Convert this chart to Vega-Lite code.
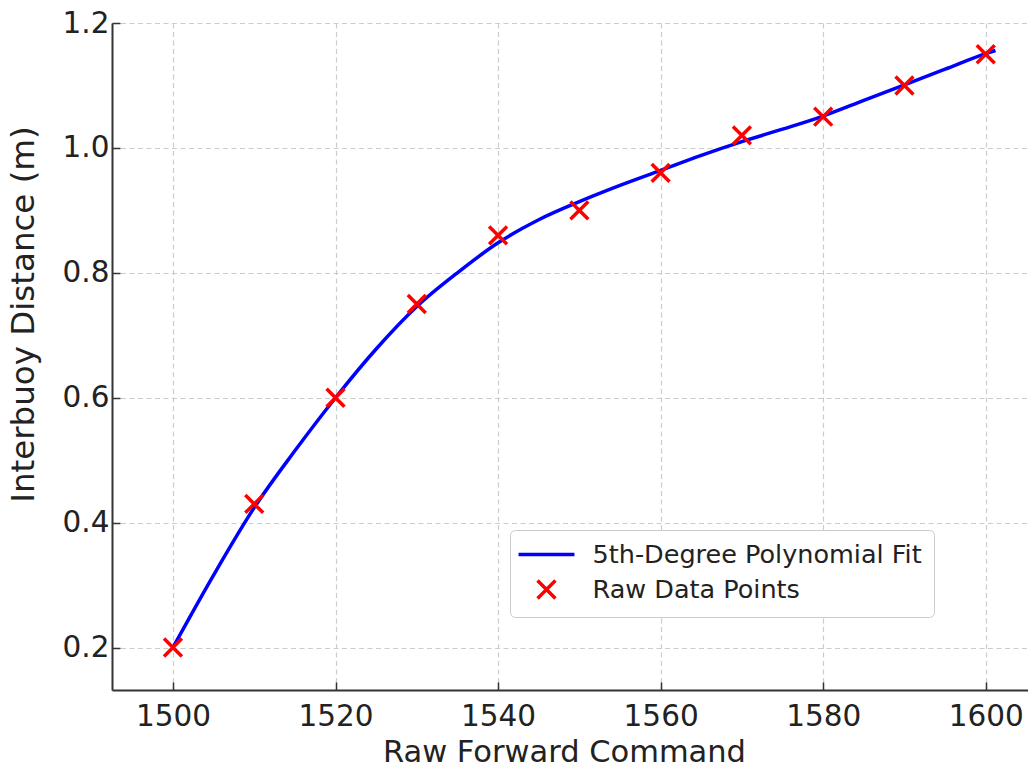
{
  "$schema": "https://vega.github.io/schema/vega-lite/v6.json",
  "width": 916,
  "height": 667,
  "autosize": {"type": "none"},
  "padding": {"left": 112, "top": 23, "right": 0, "bottom": 78},
  "background": "white",
  "config": {
    "font": "DejaVu Sans",
    "view": {"stroke": null},
    "axis": {
      "grid": true,
      "gridColor": "#cccccc",
      "gridDash": [5, 3.5],
      "gridWidth": 1.2,
      "domainColor": "#333333",
      "domainWidth": 2,
      "tickColor": "#333333",
      "tickWidth": 1.5,
      "tickSize": -8,
      "labelFontSize": 29.5,
      "labelColor": "#222222",
      "titleFontWeight": "normal",
      "titleColor": "#222222"
    },
    "legend": {
      "symbolStrokeWidth": 3.5
    }
  },
  "datasets": {
    "fit": [
      {"command": 1500, "distance": 0.200, "series": "5th-Degree Polynomial Fit"},
      {"command": 1505, "distance": 0.316, "series": "5th-Degree Polynomial Fit"},
      {"command": 1510, "distance": 0.424, "series": "5th-Degree Polynomial Fit"},
      {"command": 1515, "distance": 0.515, "series": "5th-Degree Polynomial Fit"},
      {"command": 1520, "distance": 0.600, "series": "5th-Degree Polynomial Fit"},
      {"command": 1525, "distance": 0.678, "series": "5th-Degree Polynomial Fit"},
      {"command": 1530, "distance": 0.746, "series": "5th-Degree Polynomial Fit"},
      {"command": 1535, "distance": 0.800, "series": "5th-Degree Polynomial Fit"},
      {"command": 1540, "distance": 0.848, "series": "5th-Degree Polynomial Fit"},
      {"command": 1545, "distance": 0.885, "series": "5th-Degree Polynomial Fit"},
      {"command": 1550, "distance": 0.914, "series": "5th-Degree Polynomial Fit"},
      {"command": 1555, "distance": 0.940, "series": "5th-Degree Polynomial Fit"},
      {"command": 1560, "distance": 0.964, "series": "5th-Degree Polynomial Fit"},
      {"command": 1565, "distance": 0.988, "series": "5th-Degree Polynomial Fit"},
      {"command": 1570, "distance": 1.010, "series": "5th-Degree Polynomial Fit"},
      {"command": 1575, "distance": 1.030, "series": "5th-Degree Polynomial Fit"},
      {"command": 1580, "distance": 1.051, "series": "5th-Degree Polynomial Fit"},
      {"command": 1585, "distance": 1.076, "series": "5th-Degree Polynomial Fit"},
      {"command": 1590, "distance": 1.101, "series": "5th-Degree Polynomial Fit"},
      {"command": 1595, "distance": 1.126, "series": "5th-Degree Polynomial Fit"},
      {"command": 1600, "distance": 1.151, "series": "5th-Degree Polynomial Fit"},
      {"command": 1601.2, "distance": 1.156, "series": "5th-Degree Polynomial Fit"}
    ],
    "raw": [
      {"command": 1500, "distance": 0.20, "series": "Raw Data Points"},
      {"command": 1510, "distance": 0.43, "series": "Raw Data Points"},
      {"command": 1520, "distance": 0.60, "series": "Raw Data Points"},
      {"command": 1530, "distance": 0.75, "series": "Raw Data Points"},
      {"command": 1540, "distance": 0.86, "series": "Raw Data Points"},
      {"command": 1550, "distance": 0.90, "series": "Raw Data Points"},
      {"command": 1560, "distance": 0.96, "series": "Raw Data Points"},
      {"command": 1570, "distance": 1.02, "series": "Raw Data Points"},
      {"command": 1580, "distance": 1.05, "series": "Raw Data Points"},
      {"command": 1590, "distance": 1.10, "series": "Raw Data Points"},
      {"command": 1600, "distance": 1.15, "series": "Raw Data Points"}
    ]
  },
  "encoding": {
    "x": {
      "field": "command",
      "type": "quantitative",
      "scale": {"domain": [1492.5, 1605.2], "nice": false, "zero": false},
      "axis": {
        "title": "Raw Forward Command",
        "values": [1500, 1520, 1540, 1560, 1580, 1600],
        "format": "d",
        "labelBaseline": "alphabetic",
        "labelPadding": 43,
        "titleFontSize": 30.5,
        "titleBaseline": "alphabetic",
        "titleX": 452,
        "titleY": 71.5
      }
    },
    "y": {
      "field": "distance",
      "type": "quantitative",
      "scale": {"domain": [0.132, 1.2], "nice": false, "zero": false},
      "axis": {
        "title": "Interbuoy Distance (m)",
        "values": [0.2, 0.4, 0.6, 0.8, 1.0, 1.2],
        "format": ".1f",
        "labelPadding": 11,
        "titleFontSize": 32.5,
        "titleBaseline": "alphabetic",
        "titleAngle": 270,
        "titleX": -79,
        "titleY": 291
      }
    },
    "color": {
      "field": "series",
      "type": "nominal",
      "scale": {
        "domain": ["5th-Degree Polynomial Fit", "Raw Data Points"],
        "range": ["#0000ff", "#ff0000"]
      },
      "legend": {
        "title": null,
        "orient": "none",
        "legendX": 398,
        "legendY": 507,
        "labelFontSize": 25.5,
        "labelColor": "#222222",
        "labelLimit": 600,
        "symbolSize": 500,
        "symbolOffset": 12,
        "labelOffset": 33,
        "rowPadding": 5,
        "padding": 11.5,
        "fillColor": "white",
        "strokeColor": "#cccccc",
        "cornerRadius": 5
      }
    }
  },
  "layer": [
    {
      "data": {"name": "fit"},
      "mark": {"type": "line", "strokeWidth": 3.5, "interpolate": "monotone"}
    },
    {
      "data": {"name": "raw"},
      "mark": {"type": "point", "filled": false, "size": 500, "strokeWidth": 3.5, "opacity": 1},
      "encoding": {
        "shape": {
          "field": "series",
          "type": "nominal",
          "scale": {
            "domain": ["5th-Degree Polynomial Fit", "Raw Data Points"],
            "range": ["M-2.5,0L2.5,0", "M-0.8,-0.8L0.8,0.8M0.8,-0.8L-0.8,0.8"]
          },
          "legend": {
            "title": null,
            "orient": "none",
            "legendX": 398,
            "legendY": 507,
            "labelFontSize": 25.5,
            "labelColor": "#222222",
            "labelLimit": 600,
            "symbolSize": 500,
            "symbolOffset": 12,
            "labelOffset": 33,
            "rowPadding": 5,
            "padding": 11.5,
            "fillColor": "white",
            "strokeColor": "#cccccc",
            "cornerRadius": 5
          }
        }
      }
    }
  ]
}
